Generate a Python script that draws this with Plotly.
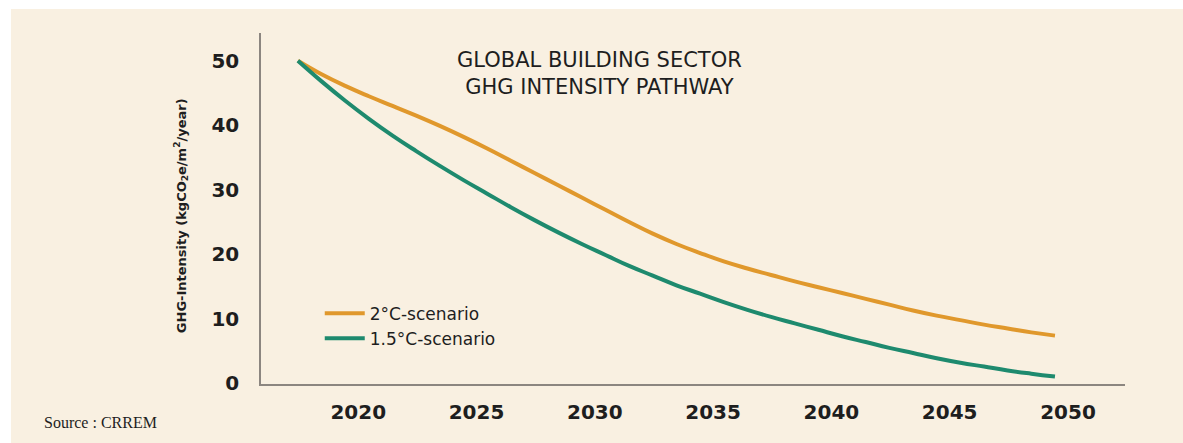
"""
GHG intensity pathway for the global building sector (CRREM), 2°C vs 1.5°C.
"""

import plotly.graph_objects as go

# Años y trayectorias (kgCO2e/m2/año)
years = list(range(2018, 2051))
scenario_2c = [
    50.0, 47.9, 46.1, 44.5, 43.0, 41.5, 39.9, 38.2, 36.4, 34.5,
    32.6, 30.7, 28.8, 26.9, 25.0, 23.2, 21.6, 20.2, 18.9, 17.8,
    16.8, 15.8, 14.9, 14.0, 13.1, 12.2, 11.3, 10.5, 9.8, 9.1,
    8.5, 7.9, 7.4,
]
scenario_15c = [
    50.0, 46.8, 43.8, 41.0, 38.4, 36.0, 33.7, 31.5, 29.4, 27.3,
    25.3, 23.4, 21.6, 19.9, 18.2, 16.7, 15.2, 13.9, 12.6, 11.4,
    10.3, 9.3, 8.3, 7.3, 6.4, 5.5, 4.7, 3.9, 3.2, 2.6,
    2.0, 1.5, 1.05,
]
x_ticks = [2020, 2025, 2030, 2035, 2040, 2045, 2050]
y_ticks = [0, 10, 20, 30, 40, 50]

BEIGE = "#F9F0E1"
ORANGE = "#E0982C"
GREEN = "#1E8A6E"
AXIS = "#8C8680"
TEXT = "#1E1E1E"

fig = go.Figure()

fig.add_trace(go.Scatter(
    x=years, y=scenario_2c,
    mode="lines",
    name="2°C-scenario",
    line={"color": ORANGE, "width": 4, "shape": "spline", "smoothing": 1.3},
))
fig.add_trace(go.Scatter(
    x=years, y=scenario_15c,
    mode="lines",
    name="1.5°C-scenario",
    line={"color": GREEN, "width": 4, "shape": "spline", "smoothing": 1.3},
))

# Panel beige con margen blanco arriba y a la izquierda
fig.add_shape(
    type="rect", xref="paper", yref="paper",
    x0=-0.2894, x1=1.08, y0=-0.2, y1=1.0684,
    fillcolor=BEIGE, line={"width": 0}, layer="below",
)

fig.add_annotation(
    text="GLOBAL BUILDING SECTOR<br>GHG INTENSITY PATHWAY",
    xref="paper", yref="paper", x=0.392, y=0.885,
    xanchor="center", yanchor="middle", showarrow=False,
    font={"family": "DejaVu Sans", "size": 21, "color": TEXT},
    align="center",
)
fig.add_annotation(
    text="Source : CRREM",
    xref="paper", yref="paper", x=-0.254, y=-0.111,
    xanchor="left", yanchor="middle", showarrow=False,
    font={"family": "Liberation Serif", "size": 16, "color": TEXT},
)
fig.add_annotation(
    text="<b>GHG-Intensity (kgCO<sub>2</sub>e/m<sup>2</sup>/year)</b>",
    xref="paper", yref="paper", x=-0.093, y=0.48,
    xanchor="center", yanchor="middle", showarrow=False, textangle=-90,
    font={"family": "DejaVu Sans", "size": 13, "color": TEXT},
)

fig.update_layout(
    width=1183, height=443,
    margin={"l": 261, "r": 58, "t": 33, "b": 59},
    paper_bgcolor="white",
    plot_bgcolor=BEIGE,
    showlegend=True,
    legend={
        "x": 0.068, "y": 0.165, "xanchor": "left", "yanchor": "middle",
        "bgcolor": "rgba(0,0,0,0)",
        "font": {"family": "DejaVu Sans", "size": 17, "color": TEXT},
        "tracegroupgap": 0, "itemwidth": 40,
    },
    xaxis={
        "range": [2016.44, 2052.96],
        "tickvals": x_ticks,
        "showgrid": False, "zeroline": False,
        "showline": True, "linecolor": AXIS, "linewidth": 1.5,
        "ticks": "", "ticklabelstandoff": 9, "ticklabelshift": 13,
        "tickfont": {"family": "DejaVu Sans", "size": 20, "color": TEXT, "weight": "bold"},
    },
    yaxis={
        "range": [-0.1, 54.3],
        "tickvals": y_ticks,
        "showgrid": False, "zeroline": False,
        "showline": True, "linecolor": AXIS, "linewidth": 1.5,
        "ticks": "", "ticklabelstandoff": 16,
        "tickfont": {"family": "DejaVu Sans", "size": 20, "color": TEXT, "weight": "bold"},
    },
)

# Sin margen del body para que la figura empiece en la esquina
fig.write_html(
    "out.html",
    config={"displayModeBar": False},
    post_script="document.body.style.margin='0';",
)
